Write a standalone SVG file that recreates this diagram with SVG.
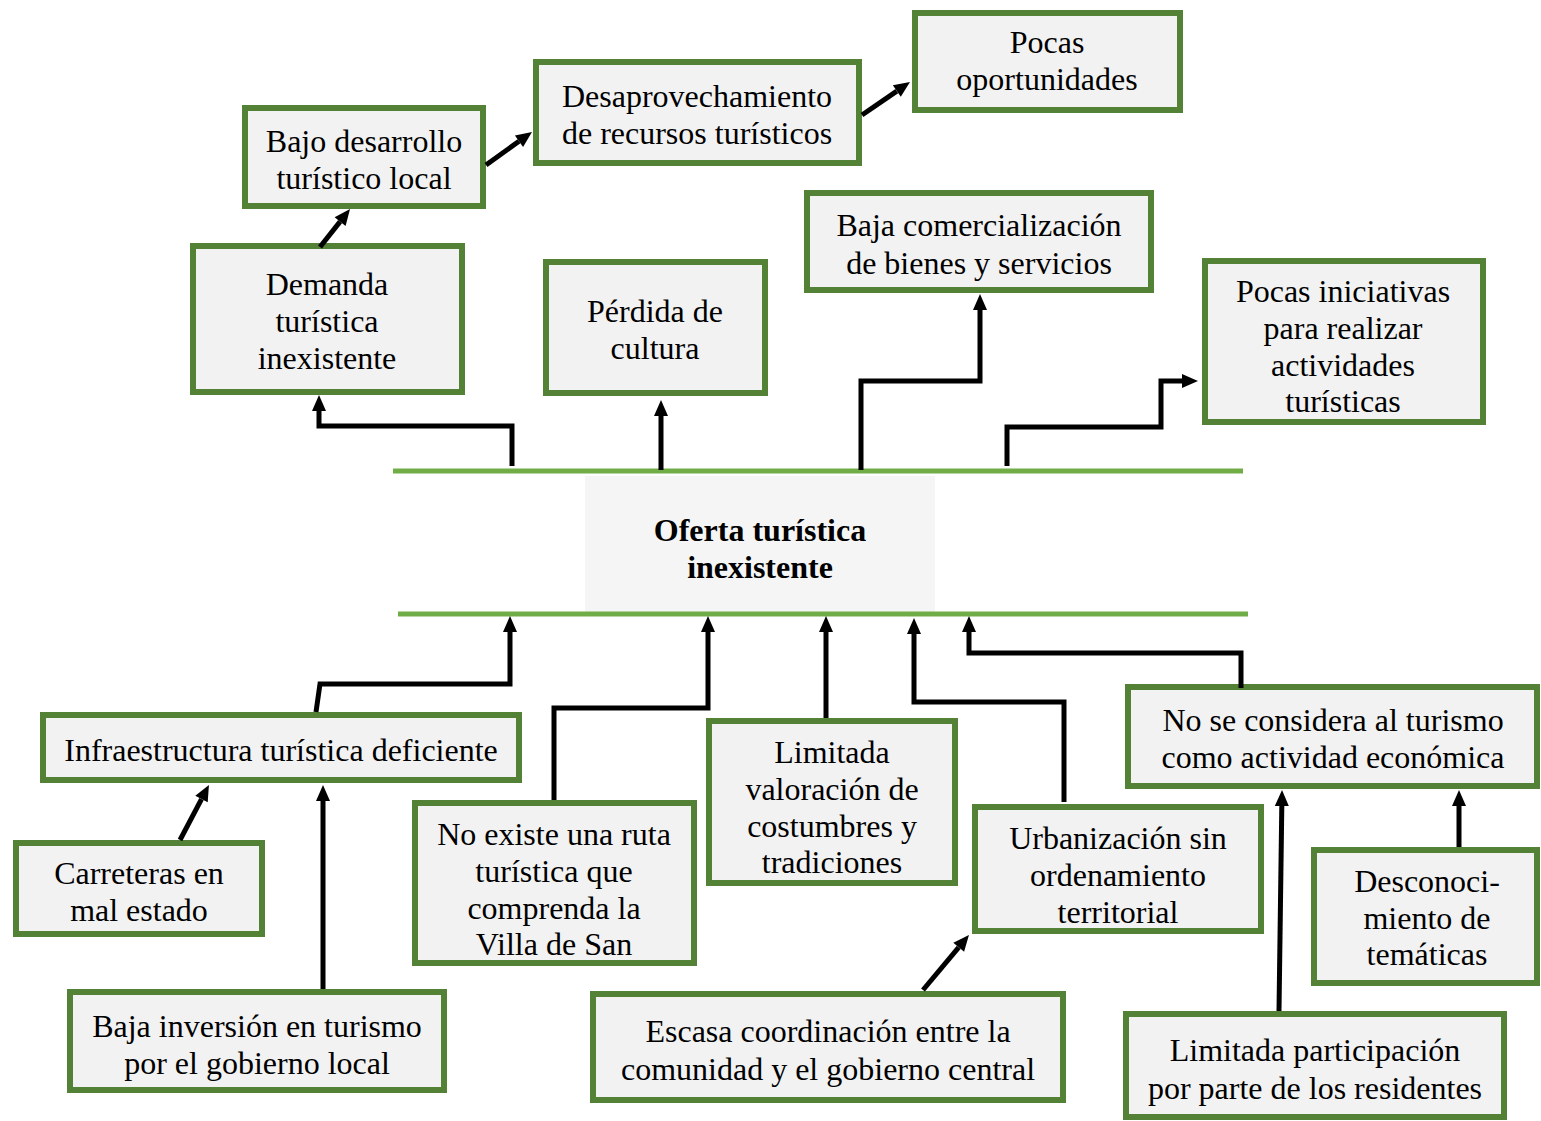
<svg xmlns="http://www.w3.org/2000/svg" width="1541" height="1121" viewBox="0 0 1541 1121">
<defs>
<style>
.box{fill:#f2f2f2;stroke:#538135;stroke-width:6}
.t{font-family:"Liberation Serif","Times New Roman",serif;font-size:32px;fill:#000;text-anchor:middle}
.b{font-weight:bold}
.c{fill:none;stroke:#000;stroke-width:5;stroke-linejoin:miter}
.g{stroke:#70ad47;stroke-width:5}
</style>
<marker id="ah" markerUnits="userSpaceOnUse" markerWidth="18" markerHeight="15" refX="0" refY="7" orient="auto" overflow="visible">
<path d="M0,0 L16,7 L0,14 z" fill="#000"/>
</marker>
</defs>
<rect width="1541" height="1121" fill="#fff"/>

<g id="center">
<rect x="585" y="476" width="350" height="136" fill="#f5f5f5"/>
<line class="g" x1="393" y1="471" x2="1243" y2="471"/>
<line class="g" x1="398" y1="614" x2="1248" y2="614"/>
<text class="t b" x="760" y="541">Oferta turística</text>
<text class="t b" x="760" y="578">inexistente</text>
</g>

<g id="n-pocas-oportunidades">
<rect class="box" x="915" y="13" width="265" height="97"/>
<text class="t" x="1047" y="53">Pocas</text>
<text class="t" x="1047" y="90">oportunidades</text>
</g>
<g id="n-desaprovechamiento">
<rect class="box" x="536" y="62" width="323" height="101"/>
<text class="t" x="697" y="107">Desaprovechamiento</text>
<text class="t" x="697" y="144">de recursos turísticos</text>
</g>
<g id="n-bajo-desarrollo">
<rect class="box" x="245" y="108" width="238" height="98"/>
<text class="t" x="364" y="152">Bajo desarrollo</text>
<text class="t" x="364" y="189">turístico local</text>
</g>
<g id="n-demanda">
<rect class="box" x="193" y="246" width="269" height="146"/>
<text class="t" x="327" y="295">Demanda</text>
<text class="t" x="327" y="332">turística</text>
<text class="t" x="327" y="369">inexistente</text>
</g>
<g id="n-perdida">
<rect class="box" x="546" y="262" width="219" height="131"/>
<text class="t" x="655" y="322">Pérdida de</text>
<text class="t" x="655" y="359">cultura</text>
</g>
<g id="n-baja-comercializacion">
<rect class="box" x="807" y="193" width="344" height="97"/>
<text class="t" x="979" y="236">Baja comercialización</text>
<text class="t" x="979" y="274">de bienes y servicios</text>
</g>
<g id="n-pocas-iniciativas">
<rect class="box" x="1205" y="261" width="278" height="161"/>
<text class="t" x="1343" y="302">Pocas iniciativas</text>
<text class="t" x="1343" y="339">para realizar</text>
<text class="t" x="1343" y="376">actividades</text>
<text class="t" x="1343" y="412">turísticas</text>
</g>

<g id="n-infraestructura">
<rect class="box" x="43" y="715" width="476" height="65"/>
<text class="t" x="281" y="761">Infraestructura turística deficiente</text>
</g>
<g id="n-carreteras">
<rect class="box" x="16" y="843" width="246" height="91"/>
<text class="t" x="139" y="884">Carreteras en</text>
<text class="t" x="139" y="921">mal estado</text>
</g>
<g id="n-baja-inversion">
<rect class="box" x="70" y="992" width="374" height="98"/>
<text class="t" x="257" y="1037">Baja inversión en turismo</text>
<text class="t" x="257" y="1074">por el gobierno local</text>
</g>
<g id="n-no-existe-ruta">
<rect class="box" x="415" y="803" width="279" height="160"/>
<text class="t" x="554" y="845">No existe una ruta</text>
<text class="t" x="554" y="882">turística que</text>
<text class="t" x="554" y="919">comprenda la</text>
<text class="t" x="554" y="955">Villa de San</text>
</g>
<g id="n-limitada-valoracion">
<rect class="box" x="709" y="721" width="246" height="162"/>
<text class="t" x="832" y="763">Limitada</text>
<text class="t" x="832" y="800">valoración de</text>
<text class="t" x="832" y="837">costumbres y</text>
<text class="t" x="832" y="873">tradiciones</text>
</g>
<g id="n-urbanizacion">
<rect class="box" x="975" y="807" width="286" height="124"/>
<text class="t" x="1118" y="849">Urbanización sin</text>
<text class="t" x="1118" y="886">ordenamiento</text>
<text class="t" x="1118" y="923">territorial</text>
</g>
<g id="n-escasa-coordinacion">
<rect class="box" x="593" y="994" width="470" height="106"/>
<text class="t" x="828" y="1042">Escasa coordinación entre la</text>
<text class="t" x="828" y="1080">comunidad y el gobierno central</text>
</g>
<g id="n-no-se-considera">
<rect class="box" x="1128" y="687" width="409" height="99"/>
<text class="t" x="1333" y="731">No se considera al turismo</text>
<text class="t" x="1333" y="768">como actividad económica</text>
</g>
<g id="n-desconocimiento">
<rect class="box" x="1314" y="850" width="223" height="133"/>
<text class="t" x="1427" y="892">Desconoci-</text>
<text class="t" x="1427" y="929">miento de</text>
<text class="t" x="1427" y="965">temáticas</text>
</g>
<g id="n-limitada-participacion">
<rect class="box" x="1126" y="1014" width="378" height="103"/>
<text class="t" x="1315" y="1061">Limitada participación</text>
<text class="t" x="1315" y="1099">por parte de los residentes</text>
</g>

<g id="connectors">
<path class="c" marker-end="url(#ah)" d="M512,466 V426 H319 V411"/>
<path class="c" marker-end="url(#ah)" d="M661,470 V416"/>
<path class="c" marker-end="url(#ah)" d="M861,470 V381 H980 V310"/>
<path class="c" marker-end="url(#ah)" d="M1007,466 V427 H1161 V381 H1182"/>
<path class="c" marker-end="url(#ah)" d="M320,247 L340.1,221.6"/>
<path class="c" marker-end="url(#ah)" d="M486,165 L519,141.3"/>
<path class="c" marker-end="url(#ah)" d="M862,115 L896.8,91.1"/>
<path class="c" marker-end="url(#ah)" d="M316,712 L320,684 H510 V632"/>
<path class="c" marker-end="url(#ah)" d="M554,800 V708 H708 V632"/>
<path class="c" marker-end="url(#ah)" d="M826,718 V632"/>
<path class="c" marker-end="url(#ah)" d="M1064,802 V702 H914 V634"/>
<path class="c" marker-end="url(#ah)" d="M1241,688 V653 H969 V632"/>
<path class="c" marker-end="url(#ah)" d="M180,840 L201.5,799.1"/>
<path class="c" marker-end="url(#ah)" d="M323,989 V801"/>
<path class="c" marker-end="url(#ah)" d="M923,990 L958.7,947.3"/>
<path class="c" marker-end="url(#ah)" d="M1279,1011 L1281.8,806"/>
<path class="c" marker-end="url(#ah)" d="M1459,847 V806"/>
</g>
</svg>
